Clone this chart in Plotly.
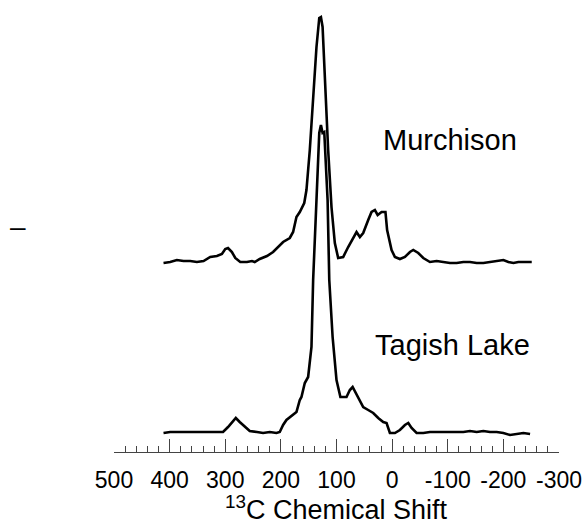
import plotly.graph_objects as go

# 13C chemical shift (ppm) and intensity (arbitrary units) for each spectrum
murchison_ppm = [411, 399, 387, 375, 363, 351, 339, 327, 315, 306, 300, 295, 288, 282, 273, 261,
                 252, 247, 238, 225, 214, 205, 196, 184, 178, 172, 166, 158, 154, 148, 142, 136,
                 131, 128, 125, 121, 115, 109, 103, 97, 88, 79, 70, 64, 58, 52, 43, 37, 31, 26,
                 19, 12, 9, 1, -5, -14, -23, -32, -38, -47, -56, -68, -80, -92, -104, -116, -128,
                 -140, -152, -164, -176, -188, -200, -209, -218, -227, -236, -251]
murchison_int = [2, 3, 5, 4, 4, 3, 4, 8, 9, 11, 16, 17, 13, 7, 3, 3,
                 4, 3, 6, 9, 13, 18, 23, 27, 33, 48, 53, 62, 75, 115, 165, 218,
                 247, 248, 238, 188, 115, 58, 22, 7, 8, 18, 27, 33, 28, 32, 45, 53, 55, 50,
                 53, 53, 35, 15, 8, 6, 8, 13, 15, 12, 7, 3, 4, 3, 2, 2, 3,
                 3, 2, 2, 3, 4, 5, 3, 2, 3, 3, 3]

tagish_ppm = [411, 399, 387, 375, 363, 351, 339, 327, 315, 304, 295, 286, 281, 274, 265, 256,
              243, 232, 220, 208, 202, 196, 190, 181, 172, 166, 163, 157, 151, 145, 142, 136,
              131, 128, 125, 122, 119, 116, 113, 107, 100, 93, 82, 76, 71, 65, 58, 52, 43, 34,
              25, 16, 10, 4, -5, -14, -23, -29, -35, -44, -56, -68, -80, -92, -104, -116, -128,
              -140, -152, -164, -176, -188, -200, -212, -224, -236, -248]
tagish_int = [1, 2, 2, 2, 2, 2, 2, 2, 2, 2, 7, 13, 16, 12, 7, 3,
              2, 1, 2, 1, 2, 9, 14, 18, 22, 34, 37, 51, 57, 87, 154, 234,
              301, 309, 301, 302, 274, 234, 154, 97, 54, 37, 37, 44, 47, 41, 34, 27, 24, 21,
              16, 12, 11, 1, 1, 4, 9, 11, 6, 1, 1, 2, 2, 2, 2, 2, 2,
              3, 2, 3, 2, 2, 1, -1, 0, 1, 0]

murchison_offset = 187
tagish_offset = 18

tick_vals = [500, 400, 300, 200, 100, 0, -100, -200, -300]
tick_text = ["500", "400", "300", "200", "100", "0", "-100", "-200", "-300"]

FONT = "Liberation Sans, Arial"

fig = go.Figure()
fig.add_trace(go.Scatter(x=murchison_ppm, y=[v + murchison_offset for v in murchison_int],
                         mode="lines", line=dict(color="black", width=2.6), showlegend=False))
fig.add_trace(go.Scatter(x=tagish_ppm, y=[v + tagish_offset for v in tagish_int],
                         mode="lines", line=dict(color="black", width=2.6), showlegend=False))

fig.add_annotation(x=-104, y=312, text="Murchison", showarrow=False,
                   font=dict(size=29, color="black", family=FONT))
fig.add_annotation(x=-109, y=107, text="Tagish Lake", showarrow=False,
                   font=dict(size=29, color="black", family=FONT))
fig.add_annotation(xref="paper", yref="paper", x=-0.239, y=0.5, text="–", showarrow=False,
                   font=dict(size=28, color="black", family=FONT))
fig.add_annotation(xref="paper", yref="paper", x=0.5, y=-0.124, yanchor="middle",
                   text="<sup>13</sup>C Chemical Shift", showarrow=False,
                   font=dict(size=27, color="black", family=FONT))

fig.update_layout(
    width=587, height=524,
    margin=dict(l=114, r=28, t=0, b=72),
    paper_bgcolor="white", plot_bgcolor="white",
    xaxis=dict(range=[500, -300], tickvals=tick_vals, ticktext=tick_text, ticks="inside",
               ticklen=13, tickwidth=1, tickcolor="#444", showline=True, linecolor="#444",
               linewidth=1, showgrid=False, zeroline=False, ticklabelstandoff=7,
               tickfont=dict(size=23, color="black", family=FONT),
               minor=dict(dtick=20, ticks="inside", ticklen=6, tickwidth=1, tickcolor="#444",
                          showgrid=False)),
    yaxis=dict(range=[0, 452], visible=False, showgrid=False, zeroline=False),
)

fig.write_html("out.html")
